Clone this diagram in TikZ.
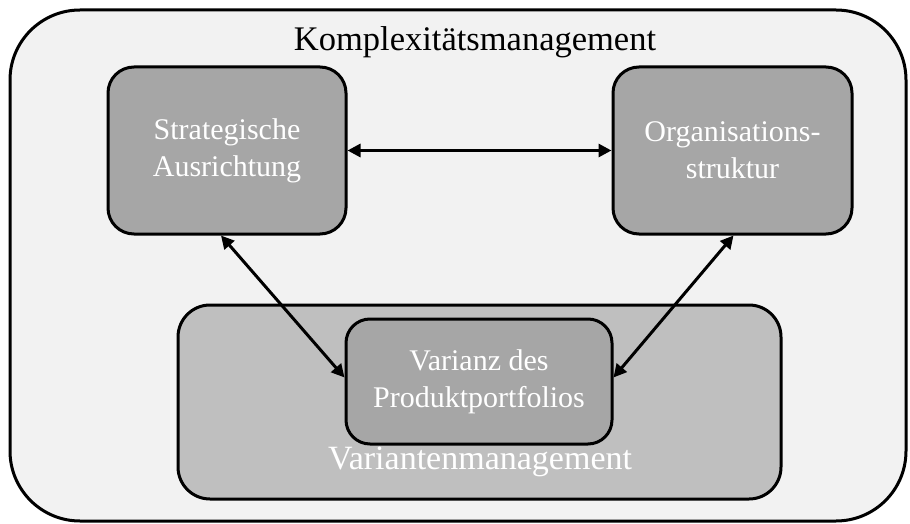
\documentclass[tikz,border=0pt]{standalone}
\usepackage{fontspec}
\setmainfont{Liberation Serif}
\usetikzlibrary{arrows.meta}
\definecolor{outerfill}{HTML}{F2F2F2}
\definecolor{boxfill}{HTML}{A6A6A6}
\definecolor{groupfill}{HTML}{BFBFBF}
\tikzset{
  frame/.style={draw=black, line width=3pt, rectangle, inner sep=0pt},
  darkbox/.style={frame, fill=boxfill, rounded corners=26pt, text=white, align=center,
    font=\fontsize{30}{37}\selectfont},
  groupbox/.style={frame, fill=groupfill, rounded corners=32pt},
  outerbox/.style={frame, fill=outerfill, rounded corners=70pt},
  link/.style={line width=3pt, {Triangle[length=13pt,width=13pt]}-{Triangle[length=13pt,width=13pt]}, shorten <=0pt, shorten >=0pt},
}
\begin{document}
\begin{tikzpicture}[x=1pt,y=-1pt]
\useasboundingbox (0,0) rectangle (910,524);
\node[outerbox, minimum width=896pt, minimum height=511pt] (outer) at (458,265.5) {};
\node[font=\fontsize{34.5}{40}\selectfont] (title) at (475,42) {Komplexitätsmanagement};
\node[groupbox, minimum width=603pt, minimum height=194pt] (vm) at (479.5,402) {};
\node[text=white, font=\fontsize{34}{40}\selectfont] (vmlabel) at (480,462) {Variantenmanagement};
\node[darkbox, minimum width=238pt, minimum height=167pt] (s) at (227,150.5) {Strategische\\Ausrichtung};
\node[darkbox, minimum width=239pt, minimum height=167pt] (o) at (732.5,150.5) {Organisations-\\struktur};
\node[darkbox, minimum width=266pt, minimum height=125pt, rounded corners=24pt] (v) at (479,381.5) {Varianz des\\Produktportfolios};
\draw[link] (s) -- (o);
\draw[link] ([xshift=-6pt]s.south) -- ([yshift=4pt]v.west);
\draw[link] ([xshift=1pt]o.south) -- ([yshift=4pt]v.east);
\end{tikzpicture}
\end{document}
